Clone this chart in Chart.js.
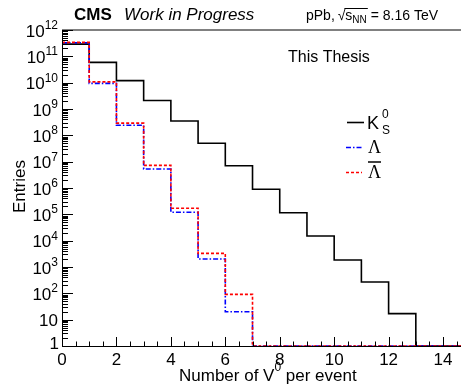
<!DOCTYPE html>
<html><head><meta charset="utf-8">
<script src="https://cdn.jsdelivr.net/npm/chart.js@4"></script>
<style>html,body{margin:0;padding:0;background:#fff}#wrap{position:relative;width:461px;height:387px}</style>
</head><body><div id="wrap"><canvas id="c"></canvas></div>
<script>
// ---- data (bin lower edges, counts per bin) ----
const binEdges   = [0,1,2,3,4,5,6,7,8,9,10,11,12,13,14,15];
const k0s        = [2.9e11, 5.9e10, 1.2e10, 2.1e9, 3.5e8, 5.0e7, 7.0e6, 9.0e5, 1.15e5, 1.5e4, 1850, 270, 17, 0, 0];
const lambda     = [3.3e11, 9.4e9, 2.4e8, 5.3e6, 1.2e5, 2000, 20, 0, 0, 0, 0, 0, 0, 0, 0];
const antiLambda = [3.4e11, 1.07e10, 2.9e8, 7.2e6, 1.7e5, 3300, 91, 0, 0, 0, 0, 0, 0, 0, 0];
const xTickLabels = ['0','2','4','6','8','10','12','14'];
const yTickExponents = [0,1,2,3,4,5,6,7,8,9,10,11,12];
const X_MIN = 0, X_MAX = 14.66, Y_MIN = 1, Y_MAX = 1e12;

function steps(vals){
  const pts = [];
  for (let i = 0; i < vals.length; i++) pts.push({x: binEdges[i], y: vals[i] > 0 ? vals[i] : Y_MIN});
  const last = vals[vals.length-1];
  pts.push({x: binEdges[vals.length], y: last > 0 ? last : Y_MIN});
  return pts;
}

const rootStyle = {
  id: 'rootStyle',
  afterDatasetsDraw(chart){
    const {ctx, chartArea: a, scales: {x, y}} = chart;
    ctx.save();
    // axes
    ctx.strokeStyle = '#000'; ctx.lineWidth = 1;
    ctx.beginPath();
    ctx.moveTo(a.left + 0.5, a.top); ctx.lineTo(a.left + 0.5, a.bottom + 0.5); ctx.lineTo(a.right, a.bottom + 0.5);
    ctx.stroke();
    ctx.strokeStyle = '#808080'; ctx.lineWidth = 2;
    ctx.beginPath(); ctx.moveTo(a.left, a.top); ctx.lineTo(a.right, a.top); ctx.stroke();
    // y ticks
    ctx.strokeStyle = '#000'; ctx.lineWidth = 1;
    ctx.beginPath();
    yTickExponents.forEach(e => {
      const yp = Math.round(y.getPixelForValue(Math.pow(10, e))) + 0.5;
      ctx.moveTo(a.left, yp); ctx.lineTo(a.left + 11, yp);
      if (e < 12) for (let m = 2; m <= 9; m++) {
        const ym = Math.round(y.getPixelForValue(m * Math.pow(10, e))) + 0.5;
        ctx.moveTo(a.left, ym); ctx.lineTo(a.left + 6, ym);
      }
    });
    // x ticks
    for (let v = 0; v <= X_MAX; v += 0.5) {
      const xp = Math.round(x.getPixelForValue(v)) + 0.5;
      const len = (v % 2 === 0) ? 9 : 4.5;
      ctx.moveTo(xp, a.bottom); ctx.lineTo(xp, a.bottom - len);
    }
    ctx.stroke();
    // y tick labels
    ctx.fillStyle = '#000';
    yTickExponents.forEach(e => {
      const yp = y.getPixelForValue(Math.pow(10, e));
      if (e === 0) {
        ctx.font = '17px "Liberation Sans", Arial, sans-serif'; ctx.textAlign = 'right'; ctx.textBaseline = 'alphabetic';
        ctx.fillText('1', 59, yp + 3);
      } else if (e === 1) {
        ctx.font = '17px "Liberation Sans", Arial, sans-serif'; ctx.textAlign = 'right'; ctx.textBaseline = 'alphabetic';
        ctx.fillText('10', 58, yp + 6.5);
      } else {
        const sup = String(e);
        ctx.font = '12px "Liberation Sans", Arial, sans-serif';
        const sw = ctx.measureText(sup).width;
        ctx.textAlign = 'right'; ctx.textBaseline = 'alphabetic';
        ctx.fillText(sup, 58, yp - 1);
        ctx.font = '17px "Liberation Sans", Arial, sans-serif';
        ctx.fillText('10', 58 - sw, yp + 6.5);
      }
    });
    // x tick labels
    ctx.font = '17px "Liberation Sans", Arial, sans-serif'; ctx.textAlign = 'center'; ctx.textBaseline = 'alphabetic';
    xTickLabels.forEach(t => { ctx.fillText(t, x.getPixelForValue(Number(t)), 365); });
    // x title
    ctx.textAlign = 'left';
    ctx.font = '17px "Liberation Sans", Arial, sans-serif';
    let tx = 179;
    ctx.fillText('Number of V', tx, 381); tx += ctx.measureText('Number of V').width;
    ctx.font = '12px "Liberation Sans", Arial, sans-serif';
    ctx.fillText('0', tx, 371); tx += ctx.measureText('0').width;
    ctx.font = '17px "Liberation Sans", Arial, sans-serif';
    ctx.fillText(' per event', tx, 381);
    // y title
    ctx.save(); ctx.translate(25, 213); ctx.rotate(-Math.PI / 2);
    ctx.textAlign = 'left'; ctx.font = '17px "Liberation Sans", Arial, sans-serif';
    ctx.fillText('Entries', 0, 0); ctx.restore();
    // header
    ctx.textAlign = 'left';
    ctx.font = 'bold 17px "Liberation Sans", Arial, sans-serif';
    ctx.fillText('CMS', 74, 20);
    ctx.font = 'italic 17px "Liberation Sans", Arial, sans-serif';
    ctx.fillText('Work in Progress', 124, 20);
    ctx.font = '14px "Liberation Sans", Arial, sans-serif';
    let hx = 306;
    ctx.fillText('pPb, ', hx, 20); hx += ctx.measureText('pPb, ').width;
    ctx.fillText('\u221A', hx - 1, 20); hx += ctx.measureText('\u221A').width - 1;
    const ovStart = hx;
    ctx.fillText('s', hx, 20); hx += ctx.measureText('s').width;
    ctx.font = '10px "Liberation Sans", Arial, sans-serif';
    ctx.fillText('NN', hx, 23); hx += ctx.measureText('NN').width;
    ctx.lineWidth = 1; ctx.beginPath(); ctx.moveTo(ovStart - 1, 8.5); ctx.lineTo(hx + 1, 8.5); ctx.stroke();
    ctx.font = '14px "Liberation Sans", Arial, sans-serif';
    ctx.fillText(' = 8.16 TeV', hx, 20);
    // "This Thesis"
    ctx.font = '16px "Liberation Sans", Arial, sans-serif';
    ctx.fillText('This Thesis', 288, 62);
    // legend
    ctx.lineWidth = 1.6; ctx.strokeStyle = '#000'; ctx.setLineDash([]);
    ctx.beginPath(); ctx.moveTo(347, 122.5); ctx.lineTo(364, 122.5); ctx.stroke();
    ctx.font = '18px "Liberation Sans", Arial, sans-serif';
    ctx.fillText('K', 367, 128.5);
    ctx.font = '12px "Liberation Sans", Arial, sans-serif';
    ctx.fillText('0', 382, 117.5);
    ctx.fillText('S', 382, 133.5);
    ctx.strokeStyle = '#0000ff'; ctx.setLineDash([5,2,1.5,2]);
    ctx.beginPath(); ctx.moveTo(346, 147.5); ctx.lineTo(362, 147.5); ctx.stroke();
    ctx.strokeStyle = '#ff0000'; ctx.setLineDash([3,2]);
    ctx.beginPath(); ctx.moveTo(346, 172.5); ctx.lineTo(362, 172.5); ctx.stroke();
    ctx.setLineDash([]);
    ctx.font = '18px "Liberation Serif", "Times New Roman", serif';
    ctx.fillText('\u039B', 368, 153);
    ctx.fillText('\u039B', 368, 178);
    ctx.strokeStyle = '#000'; ctx.lineWidth = 1.5;
    ctx.beginPath(); ctx.moveTo(368, 162); ctx.lineTo(381, 162); ctx.stroke();
    ctx.restore();
  }
};

new Chart(document.getElementById('c'), {
  type: 'line',
  data: {
    datasets: [
      {label: 'anti-Lambda', data: steps(antiLambda), borderColor: '#ff0000', borderWidth: 1.6, borderDash: [3,2], stepped: true, pointRadius: 0, fill: false},
      {label: 'Lambda', data: steps(lambda), borderColor: '#0000ff', borderWidth: 1.6, borderDash: [5,2,1.5,2], stepped: true, pointRadius: 0, fill: false},
      {label: 'K0S', data: steps(k0s), borderColor: '#000000', borderWidth: 1.6, stepped: true, pointRadius: 0, fill: false}
    ]
  },
  options: {
    responsive: true, maintainAspectRatio: false, animation: false,
    layout: {padding: {left: 62, top: 30, right: 0, bottom: 41}},
    plugins: {legend: {display: false}, tooltip: {enabled: false}},
    scales: {
      x: {type: 'linear', display: false, min: X_MIN, max: X_MAX},
      y: {type: 'logarithmic', display: false, min: Y_MIN, max: Y_MAX}
    }
  },
  plugins: [rootStyle]
});
</script>
</body></html>
